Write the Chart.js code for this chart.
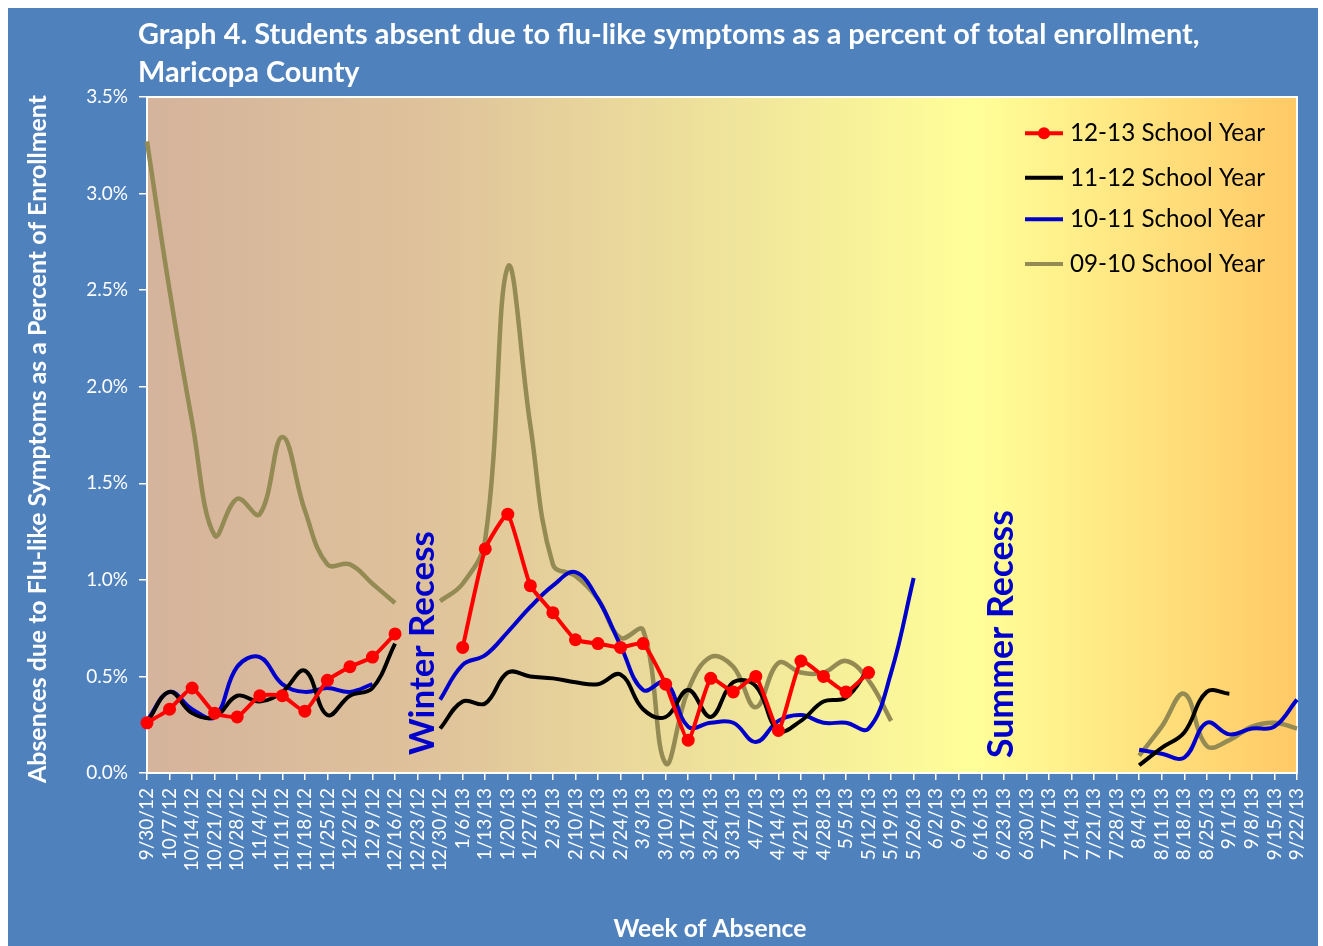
<!DOCTYPE html>
<html>
<head>
<meta charset="utf-8">
<script src="https://cdn.jsdelivr.net/npm/chart.js@4.4.1/dist/chart.umd.min.js"></script>
<style>
  html, body { margin: 0; padding: 0; background: #ffffff; }
  #wrap { position: absolute; left: 8px; top: 8px; width: 1310px; height: 938px; background: #4F81BD; }
</style>
</head>
<body>
<div id="wrap"><canvas id="flu"></canvas></div>
<script>
const weeks = ['9/30/12', '10/7/12', '10/14/12', '10/21/12', '10/28/12', '11/4/12', '11/11/12', '11/18/12',
    '11/25/12', '12/2/12', '12/9/12', '12/16/12', '12/23/12', '12/30/12', '1/6/13', '1/13/13', '1/20/13',
    '1/27/13', '2/3/13', '2/10/13', '2/17/13', '2/24/13', '3/3/13', '3/10/13', '3/17/13', '3/24/13',
    '3/31/13', '4/7/13', '4/14/13', '4/21/13', '4/28/13', '5/5/13', '5/12/13', '5/19/13', '5/26/13',
    '6/2/13', '6/9/13', '6/16/13', '6/23/13', '6/30/13', '7/7/13', '7/14/13', '7/21/13', '7/28/13',
    '8/4/13', '8/11/13', '8/18/13', '8/25/13', '9/1/13', '9/8/13', '9/15/13', '9/22/13'];

// percent of enrollment, null = no school
const year1213 = [0.26, 0.33, 0.44, 0.31, 0.29, 0.40, 0.40, 0.32, 0.48, 0.55, 0.60, 0.72, null, null,
    0.65, 1.16, 1.34, 0.97, 0.83, 0.69, 0.67, 0.65, 0.67, 0.46, 0.17, 0.49, 0.42, 0.50, 0.22, 0.58, 0.50, 0.42, 0.52,
    null, null, null, null, null, null, null, null, null, null, null,
    null, null, null, null, null, null, null, null];
const year1112 = [0.26, 0.42, 0.31, 0.29, 0.40, 0.37, 0.42, 0.53, 0.30, 0.40, 0.44, 0.67, null, 0.23,
    0.37, 0.36, 0.52, 0.50, 0.49, 0.47, 0.46, 0.51, 0.33, 0.29, 0.43, 0.29, 0.47, 0.45, 0.22, 0.27, 0.37, 0.39, 0.54,
    null, null, null, null, null, null, null, null, null, null, null,
    0.04, 0.13, 0.21, 0.42, 0.41, null, null, null];
const year1011 = [0.27, 0.42, 0.33, 0.29, 0.55, 0.60, 0.46, 0.42, 0.44, 0.42, 0.46, null, null, 0.38,
    0.56, 0.61, 0.73, 0.86, 0.97, 1.04, 0.90, 0.66, 0.43, 0.47, 0.24, 0.26, 0.26, 0.16, 0.27, 0.30, 0.26, 0.26, 0.23,
    0.52, 1.01, null, null, null, null, null, null, null, null, null,
    0.12, 0.10, 0.08, 0.26, 0.20, 0.23, 0.24, 0.38];
const year0910 = [3.27, 2.50, 1.82, 1.23, 1.42, 1.34, 1.74, 1.36, 1.08, 1.08, 0.98, 0.88, null, 0.89,
    0.98, 1.21, 2.62, 1.80, 1.08, 1.02, 0.90, 0.70, 0.74, 0.05, 0.43, 0.60, 0.55, 0.34, 0.57, 0.52, 0.52, 0.58, 0.48,
    0.27, null, null, null, null, null, null, null, null, null, null,
    0.09, 0.24, 0.41, 0.14, 0.17, 0.24, 0.26, 0.23];

const FONT = 'Lato, "Open Sans", sans-serif';

// scale a font so a string fills a given width
function fitText(ctx, text, weight, width) {
    ctx.font = weight + ' 20px ' + FONT;
    const size = 20 * width / ctx.measureText(text).width;
    ctx.font = weight + ' ' + size.toFixed(2) + 'px ' + FONT;
}

function vertText(ctx, text, x, y) {
    ctx.save();
    ctx.translate(x, y);
    ctx.rotate(-Math.PI / 2);
    ctx.textAlign = 'center';
    ctx.fillText(text, 0, 0);
    ctx.restore();
}

const decor = {
    id: 'decor',
    beforeDraw(chart) {
        const { ctx, chartArea: a } = chart;
        const g = ctx.createLinearGradient(a.left, 0, a.right, 0);
        g.addColorStop(0, '#D5B39C');
        g.addColorStop(0.25, '#DFC39B');
        g.addColorStop(0.5, '#EFE39B');
        g.addColorStop(0.72, '#FFFF99');
        g.addColorStop(1, '#FFC966');
        ctx.save();
        ctx.fillStyle = g;
        ctx.fillRect(a.left, a.top, a.right - a.left, a.bottom - a.top);
        ctx.strokeStyle = '#ffffff';
        ctx.lineWidth = 2;
        ctx.strokeRect(a.left, a.top, a.right - a.left, a.bottom - a.top);
        ctx.restore();
    },
    afterDraw(chart) {
        const ctx = chart.ctx;
        ctx.save();
        ctx.fillStyle = '#ffffff';
        ctx.textBaseline = 'alphabetic';
        ctx.textAlign = 'left';
        const t1 = 'Graph 4. Students absent due to flu-like symptoms as a percent of total enrollment,';
        fitText(ctx, t1, 'bold', 1062);
        ctx.fillText(t1, 130, 35.5);
        ctx.fillText('Maricopa County', 130, 73.5);

        ctx.textBaseline = 'middle';
        const yt = 'Absences due to Flu-like Symptoms as a Percent of Enrollment';
        fitText(ctx, yt, 'bold', 688);
        vertText(ctx, yt, 29.5, 431);

        ctx.textBaseline = 'alphabetic';
        ctx.textAlign = 'center';
        fitText(ctx, 'Week of Absence', 'bold', 193);
        ctx.fillText('Week of Absence', 702, 929);

        ctx.fillStyle = '#0000CC';
        fitText(ctx, 'Winter Recess', 'bold', 224);
        vertText(ctx, 'Winter Recess', 426, 635);
        fitText(ctx, 'Summer Recess', 'bold', 248);
        vertText(ctx, 'Summer Recess', 1004.5, 626);

        // legend
        const rows = [125.3, 169.7, 211.3, 256];
        chart.data.datasets.forEach((ds, i) => {
            const y = rows[i];
            ctx.strokeStyle = ds.borderColor;
            ctx.lineWidth = 4;
            ctx.beginPath();
            ctx.moveTo(1017, y);
            ctx.lineTo(1055, y);
            ctx.stroke();
            if (ds.pointRadius > 0) {
                ctx.fillStyle = ds.borderColor;
                ctx.beginPath();
                ctx.arc(1036, y, 6, 0, Math.PI * 2);
                ctx.fill();
            }
            ctx.fillStyle = '#000000';
            ctx.textAlign = 'left';
            fitText(ctx, ds.label, 'normal', 195);
            ctx.fillText(ds.label, 1062, y + 8);
        });
        ctx.restore();
    }
};

const common = { borderWidth: 4, spanGaps: false, clip: false };

new Chart(document.getElementById('flu'), {
    type: 'line',
    data: {
        labels: weeks,
        datasets: [
            { ...common, label: '12-13 School Year', data: year1213, borderColor: '#FF0000',
              pointRadius: 6.5, pointBackgroundColor: '#FF0000', pointBorderWidth: 0, tension: 0.15 },
            { ...common, label: '11-12 School Year', data: year1112, borderColor: '#000000',
              pointRadius: 0, tension: 0.4 },
            { ...common, label: '10-11 School Year', data: year1011, borderColor: '#0000CC',
              pointRadius: 0, tension: 0.4 },
            { ...common, label: '09-10 School Year', data: year0910, borderColor: '#948A54',
              pointRadius: 0, tension: 0.4, borderWidth: 4.5 }
        ]
    },
    options: {
        responsive: true,
        maintainAspectRatio: false,
        animation: false,
        layout: { padding: { top: 89, right: 21, left: 0, bottom: 0 } },
        plugins: { legend: { display: false }, title: { display: false }, tooltip: { enabled: false } },
        scales: {
            x: {
                offset: false,
                afterFit(scale) {
                    scale.height = 173;
                    scale.paddingLeft = 0;
                    scale.paddingRight = 0;
                },
                grid: { drawOnChartArea: false, drawTicks: true, tickLength: 7, color: '#ffffff', lineWidth: 1.5 },
                border: { display: true, color: '#ffffff', width: 2 },
                ticks: { color: '#ffffff', autoSkip: false, minRotation: 90, maxRotation: 90, padding: 8,
                         font: { family: FONT, size: 19 } }
            },
            y: {
                min: 0,
                max: 3.5,
                afterFit(scale) { scale.width = 139; },
                grid: { drawOnChartArea: false, drawTicks: true, tickLength: 8, color: '#ffffff', lineWidth: 1.5 },
                border: { display: true, color: '#ffffff', width: 2 },
                ticks: { stepSize: 0.5, color: '#ffffff', padding: 11, font: { family: FONT, size: 19 },
                         callback: v => v.toFixed(1) + '%' }
            }
        }
    },
    plugins: [decor]
});
</script>
</body>
</html>
